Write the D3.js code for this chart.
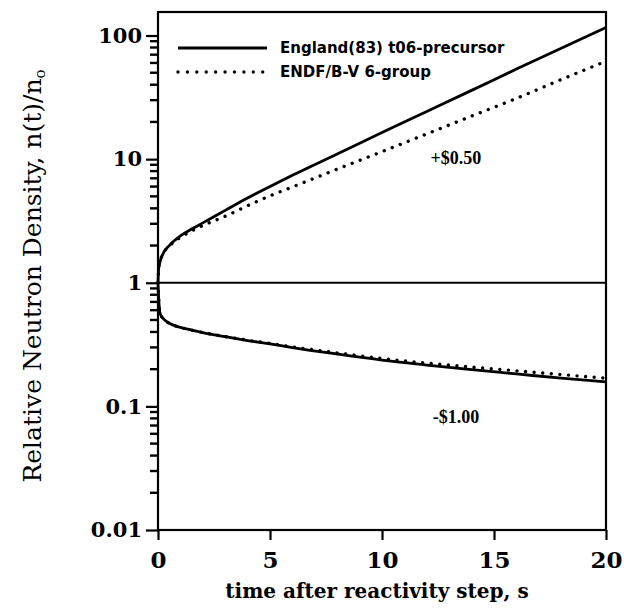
<!DOCTYPE html>
<html lang="en">
	<head>
		<meta charset="utf-8">
		<title>D3: neutron density after reactivity step</title>
		<script src="https://d3js.org/d3.v7.min.js"></script>
		<style type="text/css">
			body { margin: 0; background: #fff; }
		</style>
	</head>
	<body>
		<script type="text/javascript">
			// values
			var timeS = [0, 0.03, 0.1, 0.25, 0.5, 1, 1.5, 2, 3, 4, 5, 6, 8, 10, 12, 14, 16, 18, 20];

			// +$0.50 step
			var englandUp = [1, 1.3, 1.5, 1.75, 2.0, 2.4, 2.72, 3.05, 3.85, 4.85, 6.0, 7.4, 11.0, 16.4, 24.3, 36, 53.5, 79, 116];
			var endfUp    = [1, 1.3, 1.5, 1.75, 1.98, 2.33, 2.62, 2.9, 3.45, 4.2, 5.05, 5.95, 8.3, 11.5, 16.0, 22.3, 31.0, 44, 62];

			// -$1.00 step
			var englandDown = [1, 0.75, 0.56, 0.51, 0.47, 0.436, 0.414, 0.395, 0.366, 0.341, 0.32, 0.299, 0.265, 0.237, 0.216, 0.198, 0.183, 0.169, 0.158];
			var endfDown    = [1, 0.75, 0.56, 0.51, 0.47, 0.436, 0.414, 0.396, 0.367, 0.343, 0.323, 0.303, 0.271, 0.244, 0.224, 0.208, 0.194, 0.181, 0.169];

			var xTicks = [0, 5, 10, 15, 20];
			var yTicks = [0.01, 0.1, 1, 10, 100];
			var yTickLabels = ["0.01", "0.1", "1", "10", "100"];
			var legendLabels = ["England(83) t06-precursor", "ENDF/B-V 6-group"];
			var stepLabels = [{text: "+$0.50", t: 13.3, n: 9.1}, {text: "-$1.00", t: 13.3, n: 0.073}];

			var margin = {top: 12, right: 18, bottom: 84, left: 158},
				width = 624 - margin.left - margin.right,
				height = 614 - margin.top - margin.bottom;

			var svg = d3.select("body")
				.append("svg")
				.attr("width", 624)
				.attr("height", 614)
				.append("g")
				.attr("transform", "translate(" + margin.left + "," + margin.top + ")");

			var xscale = d3.scaleLinear()
				.domain([0, 20])
				.range([0, width]);

			var yscale = d3.scaleLog()
				.domain([0.01, 155])
				.range([height, 0]);

			// minor log ticks, 2..9 in each decade
			var minor = [];
			[0.01, 0.1, 1, 10].forEach(function(d){
				for (var k = 2; k <= 9; k++) minor.push(d * k);
			});

			var yAxis = svg.append("g")
				.call(d3.axisLeft(yscale).tickValues(yTicks).tickSize(12).tickPadding(4)
					.tickFormat(function(d, i){ return yTickLabels[i]; }));
			yAxis.select(".domain").remove();
			yAxis.selectAll("line").attr("stroke-width", 2.2);
			yAxis.selectAll("text")
				.attr("font-family", "DejaVu Serif")
				.attr("font-weight", "bold")
				.attr("font-size", "21px")
				.attr("fill", "#000");

			var xAxis = svg.append("g")
				.attr("transform", "translate(0," + height + ")")
				.call(d3.axisBottom(xscale).tickValues(xTicks).tickSize(10).tickPadding(12));
			xAxis.select(".domain").remove();
			xAxis.selectAll("line").attr("stroke-width", 2.2);
			xAxis.selectAll("text")
				.attr("font-family", "DejaVu Serif")
				.attr("font-weight", "bold")
				.attr("font-size", "23px")
				.attr("fill", "#000");

			// frame
			svg.append("rect")
				.attr("x", 0)
				.attr("y", 0)
				.attr("width", width)
				.attr("height", height)
				.attr("fill", "none")
				.attr("stroke", "black")
				.attr("stroke-width", 2.2);

			svg.append("g")
				.attr("class", "minor-ticks")
				.selectAll("line")
				.data(minor)
				.enter()
				.append("line")
				.attr("x1", -8)
				.attr("x2", 0)
				.attr("y1", function(d){ return yscale(d); })
				.attr("y2", function(d){ return yscale(d); })
				.attr("stroke", "black")
				.attr("stroke-width", 2.4);

			// n = 1 reference line
			svg.append("line")
				.attr("x1", xscale(0))
				.attr("x2", xscale(20))
				.attr("y1", yscale(1))
				.attr("y2", yscale(1))
				.attr("stroke", "black")
				.attr("stroke-width", 2);

			var line = d3.line()
				.x(function(d){ return xscale(d[0]); })
				.y(function(d){ return yscale(d[1]); })
				.curve(d3.curveMonotoneX);

			function pairs(vals){
				return timeS.map(function(t, i){ return [t, vals[i]]; });
			}

			[englandUp, englandDown].forEach(function(s){
				svg.append("path")
					.datum(pairs(s))
					.attr("d", line)
					.attr("fill", "none")
					.attr("stroke", "black")
					.attr("stroke-width", 2.8);
			});

			[endfUp, endfDown].forEach(function(s){
				svg.append("path")
					.datum(pairs(s))
					.attr("d", line)
					.attr("fill", "none")
					.attr("stroke", "black")
					.attr("stroke-width", 3.4)
					.attr("stroke-linecap", "round")
					.attr("stroke-dasharray", "0.01,8.6");
			});

			// legend
			var legend = svg.append("g")
				.attr("transform", "translate(20,36)");
			legendLabels.forEach(function(lab, i){
				legend.append("line")
					.attr("x1", 0)
					.attr("x2", 89)
					.attr("y1", i * 24)
					.attr("y2", i * 24)
					.attr("stroke", "black")
					.attr("stroke-width", i == 0 ? 2.8 : 3.4)
					.attr("stroke-linecap", i == 0 ? "butt" : "round")
					.attr("stroke-dasharray", i == 0 ? null : "0.01,9.4");
				legend.append("text")
					.attr("x", 102)
					.attr("y", i * 24 + 5)
					.text(lab)
					.attr("font-family", "DejaVu Sans")
					.attr("font-weight", "bold")
					.attr("font-size", "15px")
					.attr("fill", "black");
			});

			// step annotations
			svg.selectAll(".step")
				.data(stepLabels)
				.enter()
				.append("text")
				.attr("class", "step")
				.attr("x", function(d){ return xscale(d.t); })
				.attr("y", function(d){ return yscale(d.n); })
				.attr("text-anchor", "middle")
				.text(function(d){ return d.text; })
				.attr("font-family", "Liberation Serif")
				.attr("font-weight", "bold")
				.attr("font-size", "18px")
				.attr("fill", "black");

			// axis titles
			svg.append("text")
				.attr("x", width / 2 - 5)
				.attr("y", height + 68)
				.style("text-anchor", "middle")
				.attr("font-family", "DejaVu Serif")
				.attr("font-weight", "bold")
				.attr("font-size", "20px")
				.text("time after reactivity step, s");

			var ytitle = svg.append("text")
				.attr("transform", "translate(" + (-117) + "," + 264 + ") rotate(-90)")
				.style("text-anchor", "middle")
				.attr("font-family", "DejaVu Serif")
				.attr("font-size", "25px");
			ytitle.append("tspan").text("Relative Neutron Density, n(t)/n");
			ytitle.append("tspan")
				.attr("font-size", "15px")
				.attr("dy", 4)
				.text("o");
		</script>
	</body>
</html>
